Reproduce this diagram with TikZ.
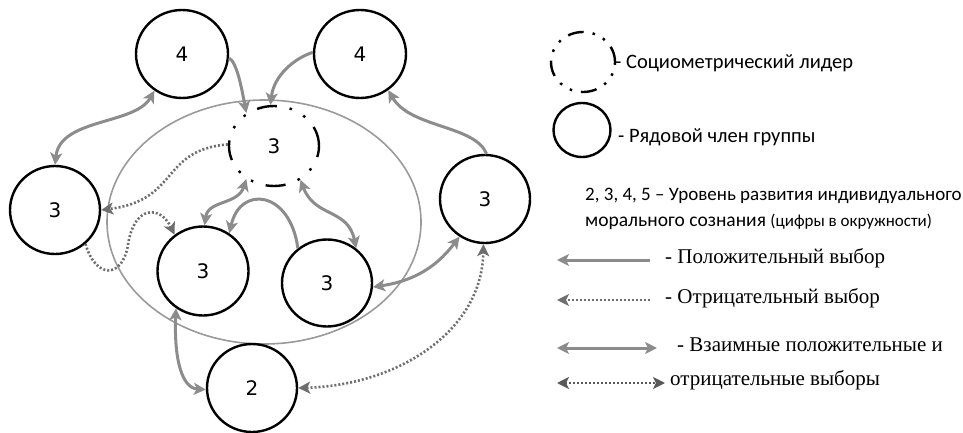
\documentclass[tikz,border=0pt]{standalone}
\usepackage{fontspec}
\setmainfont{Liberation Serif}
\newfontfamily\carl{Carlito}
\newfontfamily\numf{DejaVu Sans}
\usetikzlibrary{arrows.meta,shapes.geometric}
\definecolor{posc}{HTML}{8C8C8C}
\definecolor{negc}{HTML}{6E6E6E}
\definecolor{ellc}{HTML}{9A9A9A}
\tikzset{
  member/.style={ellipse,draw=black,line width=2.4pt,fill=white,inner sep=0pt,font=\numf\fontsize{20}{20}\selectfont},
  leader/.style={member,dash pattern=on 20pt off 13pt on 2.5pt off 13pt on 2.5pt off 13pt},
  posarr/.style={draw=posc,line width=3pt,-{Stealth[length=12pt,width=12pt,inset=3pt]}},
  mutarr/.style={draw=posc,line width=3pt,{Stealth[length=12pt,width=12pt,inset=3pt]}-{Stealth[length=12pt,width=12pt,inset=3pt]}},
  negarr/.style={draw=negc,line width=2.6pt,dash pattern=on 2pt off 2pt,-{Stealth[length=12pt,width=12pt,inset=3pt]}},
  mutneg/.style={draw=negc,line width=2.6pt,dash pattern=on 2pt off 2pt,{Stealth[length=12pt,width=12pt,inset=3pt]}-{Stealth[length=12pt,width=12pt,inset=3pt]}},
  sanslab/.style={anchor=west,inner sep=0pt,font=\carl\fontsize{20}{20}\selectfont},
  seriflab/.style={anchor=west,inner sep=0pt,font=\fontsize{21}{21}\selectfont}
}
\begin{document}
\begin{tikzpicture}[x=1pt,y=-1pt]
\useasboundingbox (0,0) rectangle (963,433);
% big group ellipse
\draw[ellc,line width=1.6pt] (264,222) ellipse [x radius=157, y radius=122];
% members
\node[member,minimum width=92pt,minimum height=88pt] (A) at (182,54) {4};
\node[member,minimum width=92pt,minimum height=88pt] (B) at (360,54) {4};
\node[leader,minimum width=90pt,minimum height=80pt] (L) at (274,146) {3};
\node[member,minimum width=90pt,minimum height=88pt] (C) at (55,210) {3};
\node[member,minimum width=91pt,minimum height=89pt] (D) at (203,271) {3};
\node[member,minimum width=90pt,minimum height=87pt] (E) at (327,283) {3};
\node[member,minimum width=90pt,minimum height=88pt] (F) at (485,199) {3};
\node[member,minimum width=90pt,minimum height=88pt] (G) at (252,388) {2};
% connectors
\draw[posarr] (A.-5) .. controls (237,62) and (242,90) .. (L.130);
\draw[posarr] (B.178) .. controls (295,58) and (274,75) .. (L.95);
\draw[mutarr] (A.233) .. controls (135,125) and (60,118) .. (C.90);
\draw[posarr] (F.88) .. controls (475,125) and (410,128) .. (B.-52);
\draw[negarr] (L.178) .. controls (160,150) and (180,200) .. (C.0);
\draw[negarr] (C.-48) .. controls (95,278) and (122,280) .. (128,245) .. controls (134,205) and (160,205) .. (D.128);
\draw[mutarr] (L.230) .. controls (238,205) and (208,200) .. (D.88);
\draw[posarr] (E.130) .. controls (290,190) and (240,185) .. (D.55);
\draw[mutarr] (L.-52) .. controls (315,218) and (348,208) .. (E.50);
\draw[mutarr] (E.-5) .. controls (420,280) and (440,262) .. (F.236);
\draw[mutarr] (D.234) .. controls (174,360) and (182,388) .. (G.182);
\draw[mutneg] (G.0) .. controls (400,385) and (482,330) .. (F.268);
% legend
\node[leader,minimum width=64pt,minimum height=60pt,dash pattern=on 16pt off 9pt on 2.5pt off 9pt on 2.5pt off 9pt] (lgL) at (583,62) {};
\node[sanslab,font=\carl\fontsize{20.5}{20.5}\selectfont] (tL) at (615,63) {- Социометрический лидер};
\node[member,minimum width=57pt,minimum height=54pt] (lgM) at (582,130) {};
\node[sanslab,font=\carl\fontsize{20.5}{20.5}\selectfont] (tM) at (618,137) {- Рядовой член группы};
\node[sanslab,font=\carl\fontsize{19}{19}\selectfont] (t1) at (585,196) {2, 3, 4, 5 – Уровень развития индивидуального};
\node[sanslab,font=\carl\fontsize{19.5}{19.5}\selectfont] (t2) at (585,222) {морального сознания {\fontsize{17}{17}\selectfont(цифры в окружности)}};
\coordinate (p1a) at (557,260); \coordinate (p1b) at (650,260);
\coordinate (p2a) at (557,300); \coordinate (p2b) at (650,300);
\coordinate (p3a) at (557,348); \coordinate (p3b) at (657,348);
\coordinate (p4a) at (557,383); \coordinate (p4b) at (665,383);
\draw[posarr] (p1b) -- (p1a);
\draw[negarr] (p2b) -- (p2a);
\draw[mutarr] (p3a) -- (p3b);
\draw[mutneg,draw=black!65] (p4a) -- (p4b);
\node[seriflab] (s1) at (665,258) {- Положительный выбор};
\node[seriflab] (s2) at (665,298) {- Отрицательный выбор};
\node[seriflab] (s3) at (677,345) {- Взаимные положительные и};
\node[seriflab] (s4) at (670,380) {отрицательные выборы};
\end{tikzpicture}
\end{document}
